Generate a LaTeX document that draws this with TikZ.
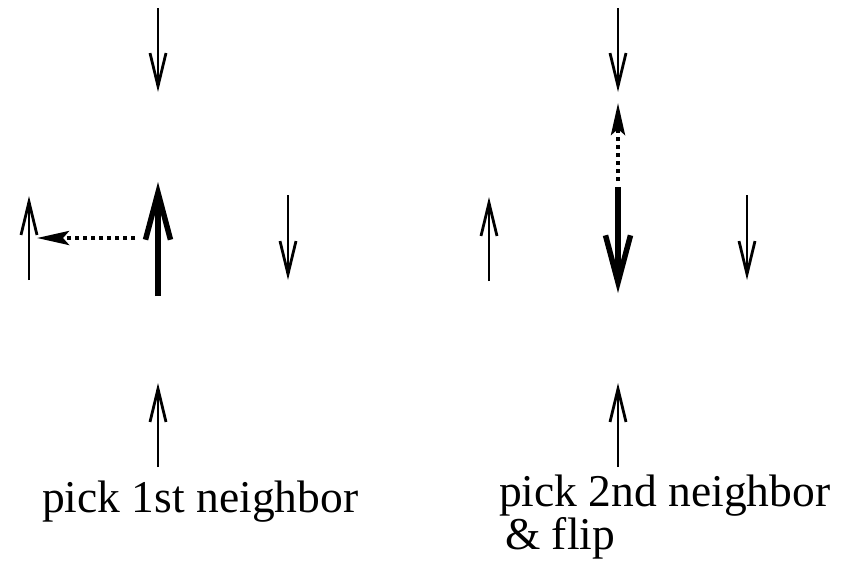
\documentclass[tikz,border=0pt]{standalone}
\usepackage{fontspec}
\setmainfont{Liberation Serif}
\usetikzlibrary{arrows.meta}
\begin{document}
\begin{tikzpicture}[x=1pt,y=-1pt,
  spin/.style={line width=1.4pt,-{Straight Barb[length=33pt,width=16pt,line width=2.8pt]}},
  bigspin/.style={line width=6.5pt,-{Straight Barb[length=47pt,width=25pt,line width=5.5pt]}},
  move/.style={line width=4pt,dash pattern=on 4pt off 4pt,-{Stealth[length=32pt,width=14pt,inset=6pt]}},
  lab/.style={anchor=base west,inner sep=0pt,font=\fontsize{45.5}{39}\selectfont}]
\useasboundingbox (0,0) rectangle (850,560);

% ---- left configuration: pick 1st neighbor ----
\coordinate (a-top-s) at (158,8);    \coordinate (a-top-e) at (158,92);
\coordinate (a-lft-s) at (29,280);   \coordinate (a-lft-e) at (29,196);
\coordinate (a-rgt-s) at (288,195);  \coordinate (a-rgt-e) at (288,280);
\coordinate (a-bot-s) at (158,467);  \coordinate (a-bot-e) at (158,383);
\coordinate (a-cen-s) at (158,296);  \coordinate (a-cen-e) at (158,182);
\coordinate (a-mv-s)  at (135,238);  \coordinate (a-mv-e)  at (37,238);

\draw[spin] (a-top-s) -- (a-top-e);
\draw[spin] (a-lft-s) -- (a-lft-e);
\draw[spin] (a-rgt-s) -- (a-rgt-e);
\draw[spin] (a-bot-s) -- (a-bot-e);
\draw[bigspin] (a-cen-s) -- (a-cen-e);
\draw[move] (a-mv-s) -- (a-mv-e);

% ---- right configuration: pick 2nd neighbor & flip ----
\coordinate (b-top-s) at (618,8);    \coordinate (b-top-e) at (618,92);
\coordinate (b-lft-s) at (489,281);  \coordinate (b-lft-e) at (489,197);
\coordinate (b-rgt-s) at (747,195);  \coordinate (b-rgt-e) at (747,280);
\coordinate (b-bot-s) at (618,467);  \coordinate (b-bot-e) at (618,383);
\coordinate (b-cen-s) at (618,187);  \coordinate (b-cen-e) at (618,293);
\coordinate (b-mv-s)  at (618,181);  \coordinate (b-mv-e)  at (618,103);

\draw[spin] (b-top-s) -- (b-top-e);
\draw[spin] (b-lft-s) -- (b-lft-e);
\draw[spin] (b-rgt-s) -- (b-rgt-e);
\draw[spin] (b-bot-s) -- (b-bot-e);
\draw[bigspin] (b-cen-s) -- (b-cen-e);
\draw[move] (b-mv-s) -- (b-mv-e);

% ---- captions ----
\node[lab] (cap-a) at (42,512) {pick 1st neighbor};
\node[lab,align=left] (cap-b) at (499,549) {pick 2nd neighbor\\\hspace*{6pt}\& flip};
\end{tikzpicture}
\end{document}
